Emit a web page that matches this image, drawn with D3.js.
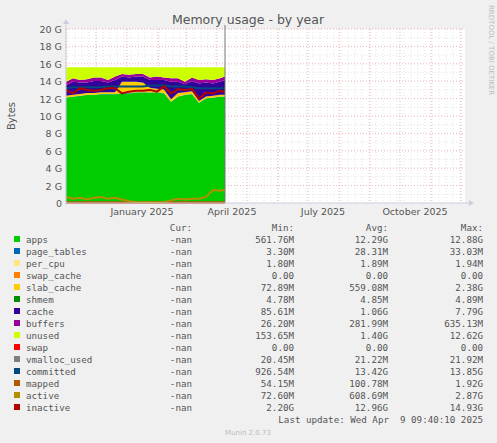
<!DOCTYPE html>
<html><head><meta charset="utf-8">
<script src="https://cdn.jsdelivr.net/npm/d3@7"></script>
<style>body{margin:0;background:#f0f0f0}svg{display:block}</style>
</head><body><svg id="chart" width="497" height="443"></svg>
<script>
// samples every 7 days from 2024-11-01 to 2025-04-09
const startDate = new Date(2024, 10, 1);
const apps     = [12.1,12.2,12.3,12.4,12.4,12.5,12.5,12.5,12.6,12.6,12.7,12.7,12.7,12.7,12.6,11.6,12.2,12.4,12.5,11.5,12.0,12.1,12.2,12.2];
const pageTab  = [0.03,0.03,0.03,0.03,0.03,0.03,0.03,0.03,0.03,0.03,0.03,0.03,0.03,0.03,0.03,0.03,0.03,0.03,0.03,0.03,0.03,0.03,0.03,0.03];
const slab     = [0.2,0.2,0.2,0.2,0.2,0.2,0.2,0.2,1.3,1.3,1.2,1.1,0.5,0.4,0.4,0.3,0.4,0.3,0.3,0.2,0.2,0.2,0.2,0.2];
const shmem    = [0.005,0.005,0.005,0.005,0.005,0.005,0.005,0.005,0.005,0.005,0.005,0.005,0.005,0.005,0.005,0.005,0.005,0.005,0.005,0.005,0.005,0.005,0.005,0.005];
const cache    = [1.2,1.5,1.3,1.2,1.4,1.3,1.1,1.4,0.6,0.5,0.6,0.7,0.9,1.0,1.1,2.0,1.3,0.9,1.2,2.0,1.6,1.4,1.5,1.7];
const buffers  = [0.4,0.4,0.3,0.4,0.4,0.4,0.3,0.4,0.3,0.3,0.3,0.3,0.3,0.4,0.3,0.4,0.4,0.3,0.4,0.4,0.4,0.4,0.4,0.4];
const totalMem = 15.6;
const committed= [13.2,13.3,13.3,13.3,13.3,13.3,13.4,13.4,13.4,13.4,13.4,13.4,13.5,13.5,13.5,13.4,13.4,13.4,13.3,13.2,13.2,13.2,13.2,13.2];
const inactive = [13.0,12.6,13.2,13.0,12.9,13.0,13.2,13.2,12.6,12.8,12.9,12.9,13.0,12.8,13.4,12.6,13.1,13.0,13.1,12.0,12.7,12.6,12.9,12.8];
const active   = [0.7,0.5,0.6,0.4,0.6,0.7,0.5,0.6,0.4,0.2,0.1,0.1,0.1,0.05,0.1,0.3,0.5,0.4,0.5,0.5,0.7,1.5,1.4,1.5];
const mapped   = [0.1,0.1,0.1,0.1,0.1,0.1,0.1,0.1,0.1,0.1,0.1,0.1,0.1,0.1,0.1,0.1,0.1,0.1,0.1,0.1,0.1,0.1,0.1,0.1];
const yTicks = [0,2,4,6,8,10,12,14,16,18,20];
const xLabels = [[new Date(2025,0,16),'January 2025'],[new Date(2025,3,16),'April 2025'],[new Date(2025,6,16),'July 2025'],[new Date(2025,9,16),'October 2025']];
const legend = [
 ['apps','#00cc00','561.76M','12.29G','12.88G'],
 ['page_tables','#0066b3','3.30M','28.31M','33.03M'],
 ['per_cpu','#ffe680','1.80M','1.89M','1.94M'],
 ['swap_cache','#ff8000','0.00','0.00','0.00'],
 ['slab_cache','#ffcc00','72.89M','559.08M','2.38G'],
 ['shmem','#008f00','4.78M','4.85M','4.89M'],
 ['cache','#330099','85.61M','1.06G','7.79G'],
 ['buffers','#990099','26.20M','281.99M','635.13M'],
 ['unused','#ccff00','153.65M','1.40G','12.62G'],
 ['swap','#ff0000','0.00','0.00','0.00'],
 ['vmalloc_used','#808080','20.45M','21.22M','21.92M'],
 ['committed','#00487d','926.54M','13.42G','13.85G'],
 ['mapped','#b35a00','54.15M','100.78M','1.92G'],
 ['active','#b38f00','72.60M','608.69M','2.87G'],
 ['inactive','#b30000','2.20G','12.96G','14.93G']
];

const svg = d3.select('#chart');
const L = 66, R = 465, T = 29, B = 203;
const x = d3.scaleTime().domain([new Date(2024,10,1), new Date(2025,11,5)]).range([L, R]);
const y = d3.scaleLinear().domain([0, 20]).range([B, T]);
const dates = apps.map((_, i) => d3.timeDay.offset(startDate, i * 7));
dates[dates.length - 1] = new Date(2025, 3, 9);

svg.append('rect').attr('x', L).attr('y', T).attr('width', R - L).attr('height', B - T).attr('fill', '#fff');

// grid
d3.range(1, 21).forEach(v => {
  svg.append('line').attr('x1', L).attr('x2', R).attr('y1', y(v)).attr('y2', y(v))
    .attr('stroke', v % 2 ? '#ddd' : '#e8a0a0').attr('stroke-dasharray', '1,2').attr('stroke-width', 0.8);
});
d3.timeWeek.range(x.domain()[0], x.domain()[1]).forEach(d => {
  svg.append('line').attr('x1', x(d)).attr('x2', x(d)).attr('y1', T).attr('y2', B)
    .attr('stroke', '#ddd').attr('stroke-dasharray', '1,2').attr('stroke-width', 0.8);
});
d3.timeMonth.range(x.domain()[0], x.domain()[1]).forEach(d => {
  svg.append('line').attr('x1', x(d)).attr('x2', x(d)).attr('y1', T).attr('y2', B)
    .attr('stroke', '#e8a0a0').attr('stroke-dasharray', '1,2').attr('stroke-width', 0.8);
});

// stacked areas
const rows = dates.map((d, i) => {
  const used = apps[i] + pageTab[i] + 0.002 + slab[i] + shmem[i] + cache[i] + buffers[i];
  return {d, apps: apps[i], page_tables: pageTab[i], per_cpu: 0.002, swap_cache: 0, slab_cache: slab[i],
    shmem: shmem[i], cache: cache[i], buffers: buffers[i], unused: totalMem - used};
});
const keys = ['apps','page_tables','per_cpu','swap_cache','slab_cache','shmem','cache','buffers','unused'];
const color = Object.fromEntries(legend.map(l => [l[0], l[1]]));
const stacked = d3.stack().keys(keys)(rows);
const area = d3.area().x(d => x(d.data.d)).y0(d => y(d[0])).y1(d => y(d[1]));
svg.selectAll('path.layer').data(stacked).enter().append('path')
  .attr('class', 'layer').attr('d', area).attr('fill', d => color[d.key]);

// lines
const line = d3.line().x((v, i) => x(dates[i])).y(v => y(v));
[['swap', apps.map(() => 0), 1], ['vmalloc_used', apps.map(() => 0.02), 1], ['committed', committed, 2],
 ['mapped', mapped, 2], ['active', active, 2], ['inactive', inactive, 2]].forEach(([k, vals, w]) => {
  svg.append('path').attr('d', line(vals)).attr('fill', 'none').attr('stroke', color[k]).attr('stroke-width', w);
});

// now line
svg.append('line').attr('x1', x(new Date(2025,3,9))).attr('x2', x(new Date(2025,3,9)))
  .attr('y1', T - 4).attr('y2', B).attr('stroke', '#777').attr('stroke-width', 1);

// axes
svg.append('line').attr('x1', L).attr('x2', R + 4).attr('y1', B).attr('y2', B).attr('stroke', '#ccd').attr('stroke-width', 1);
svg.append('line').attr('x1', L).attr('x2', L).attr('y1', B + 2).attr('y2', T - 6).attr('stroke', '#ccd').attr('stroke-width', 1);
svg.append('path').attr('d', `M${L-3},${T-5}L${L+3},${T-5}L${L},${T-10}Z`).attr('fill', '#ccd');
svg.append('path').attr('d', `M${R+4},${B-3}L${R+4},${B+3}L${R+9},${B}Z`).attr('fill', '#ccd');

const txt = '#555';
svg.selectAll('text.yt').data(yTicks).enter().append('text')
  .attr('x', L - 4).attr('y', d => y(d) + 4).attr('text-anchor', 'end')
  .attr('font-family', 'DejaVu Sans').attr('font-size', 9.5).attr('fill', txt)
  .text(d => d === 0 ? '0' : d + ' G');
svg.selectAll('text.xt').data(xLabels).enter().append('text')
  .attr('x', d => x(d[0])).attr('y', B + 12).attr('text-anchor', 'middle')
  .attr('font-family', 'DejaVu Sans').attr('font-size', 9.5).attr('fill', txt).text(d => d[1]);

svg.append('text').attr('x', 248).attr('y', 24).attr('text-anchor', 'middle')
  .attr('font-family', 'DejaVu Sans').attr('font-size', 12.5).attr('fill', '#555').text('Memory usage - by year');
svg.append('text').attr('transform', 'translate(15,116) rotate(-90)').attr('text-anchor', 'middle')
  .attr('font-family', 'DejaVu Sans').attr('font-size', 10).attr('fill', txt).text('Bytes');
svg.append('text').attr('transform', 'translate(489,5) rotate(90)')
  .attr('font-family', 'DejaVu Sans').attr('font-size', 7).attr('fill', '#bbb').text('RRDTOOL / TOBI OETIKER');

// legend
const mono = {'font-family': 'DejaVu Sans Mono', 'font-size': 9.2, fill: txt};
const addT = (xx, yy, s, anchor) => {
  const t = svg.append('text').attr('x', xx).attr('y', yy).attr('text-anchor', anchor).attr('xml:space', 'preserve').text(s);
  Object.entries(mono).forEach(([k, v]) => t.attr(k, v));
};
addT(192, 231, 'Cur:', 'end'); addT(294, 231, 'Min:', 'end'); addT(388, 231, 'Avg:', 'end'); addT(483, 231, 'Max:', 'end');
legend.forEach((l, i) => {
  const yy = 243 + i * 12;
  svg.append('rect').attr('x', 14).attr('y', yy - 7).attr('width', 6).attr('height', 6).attr('fill', l[1]);
  addT(26, yy, l[0], 'start');
  addT(192, yy, '-nan', 'end');
  addT(294, yy, l[2], 'end');
  addT(388, yy, l[3], 'end');
  addT(483, yy, l[4], 'end');
});
addT(483, 423, 'Last update: Wed Apr  9 09:40:10 2025', 'end');
svg.append('text').attr('x', 248).attr('y', 435).attr('text-anchor', 'middle')
  .attr('font-family', 'DejaVu Sans').attr('font-size', 7).attr('fill', '#bbb').text('Munin 2.0.73');
</script></body></html>
